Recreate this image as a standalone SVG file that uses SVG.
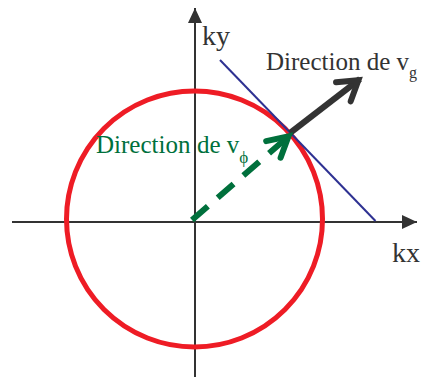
<svg xmlns="http://www.w3.org/2000/svg" width="421" height="377" viewBox="0 0 421 377">
<style>
.axis{stroke:#333333;stroke-width:2;fill:none}
.lbl{font-family:"Liberation Serif","Times New Roman",serif;fill:#333333}
.grn{font-family:"Liberation Serif","Times New Roman",serif;fill:#00703c}
</style>
<defs>
<marker id="tri" markerUnits="userSpaceOnUse" orient="auto" refX="0" refY="0" markerWidth="20" markerHeight="20" overflow="visible">
<path d="M0,0 L-15,-7 L-15,7 Z" fill="#333333"/>
</marker>
<marker id="chevK" markerUnits="userSpaceOnUse" orient="auto" refX="0" refY="0" markerWidth="40" markerHeight="40" overflow="visible">
<path d="M-21,-12 L-2,0 L-21,12" fill="none" stroke="#333333" stroke-width="6" stroke-linecap="round" stroke-linejoin="miter"/>
</marker>
<marker id="chevG" markerUnits="userSpaceOnUse" orient="auto" refX="0" refY="0" markerWidth="40" markerHeight="40" overflow="visible">
<path d="M-22,-11 L-2,0 L-22,11" fill="none" stroke="#00703c" stroke-width="6" stroke-linecap="round" stroke-linejoin="miter"/>
</marker>
</defs>
<g id="axes">
<line class="axis" x1="12" y1="222" x2="417" y2="222" marker-end="url(#tri)"/>
<line class="axis" x1="195" y1="377" x2="195" y2="8" marker-end="url(#tri)"/>
</g>
<g id="circle">
<circle cx="194.5" cy="219" r="128" fill="none" stroke="#ee1c25" stroke-width="5"/>
</g>
<g id="tangent">
<line x1="220" y1="60" x2="375.5" y2="221" stroke="#2e3192" stroke-width="2"/>
</g>
<g id="connectors">
<line x1="290" y1="133" x2="360" y2="79" stroke="#333333" stroke-width="6" marker-end="url(#chevK)"/>
<line x1="192" y1="220" x2="290" y2="135" stroke="#00703c" stroke-width="6" stroke-dasharray="21 13" marker-end="url(#chevG)"/>
</g>
<g id="labels">
<text class="lbl" x="202" y="45" font-size="28">ky</text>
<text class="lbl" x="392" y="262" font-size="28">kx</text>
<text class="lbl" x="266" y="70" font-size="25">Direction de v<tspan font-size="16" dy="8">g</tspan></text>
<text class="grn" x="96" y="153" font-size="25">Direction<tspan x="197">de v</tspan><tspan font-size="17" dy="10">ϕ</tspan></text>
</g>
</svg>
